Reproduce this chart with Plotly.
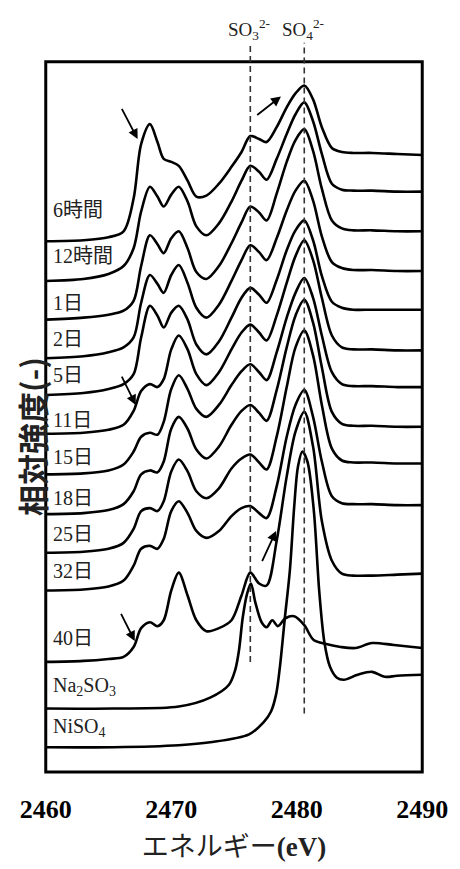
import plotly.graph_objects as go

# ---------------- data ----------------
energy = [2460, 2463, 2465, 2466.2, 2467.0, 2467.6, 2468.3, 2468.9, 2469.4, 2470.0,
          2470.6, 2471.3, 2472.0, 2472.8, 2473.8, 2474.8, 2475.6, 2476.3, 2477.0, 2477.6,
          2478.4, 2479.2, 2479.9, 2480.6, 2481.3, 2482.0, 2482.8, 2483.6, 2484.5, 2486,
          2488, 2490]

sample_labels = ["6時間", "12時間", "1日", "2日", "5日", "11日", "15日", "18日", "25日", "32日", "40日"]
sample_offsets = [535, 495, 456, 417, 380, 341, 300, 260, 221, 183, 111]

int_6h  = [0, 1, 4, 10, 43, 98, 118, 100, 83, 80, 76, 61, 45, 46, 58, 75, 90, 106, 103, 100, 115, 135, 149, 157, 143, 115, 94, 90, 89, 89, 88, 87]
int_12h = [0, 2, 7, 15, 33, 70, 95, 85, 75, 87, 95, 80, 55, 46, 58, 80, 101, 116, 110, 102, 123, 148, 168, 180, 161, 128, 98, 92, 91, 91, 90, 90]
int_1d  = [0, 2, 5, 9, 19, 54, 85, 76, 67, 82, 89, 72, 48, 41, 54, 77, 98, 114, 108, 100, 127, 159, 181, 192, 170, 132, 100, 92, 90, 90, 89, 89]
int_2d  = [0, 2, 6, 11, 21, 56, 84, 75, 66, 84, 94, 76, 51, 41, 54, 78, 99, 114, 107, 99, 121, 149, 169, 179, 159, 123, 97, 91, 89, 89, 88, 88]
int_5d  = [0, 2, 6, 11, 21, 58, 90, 80, 68, 83, 90, 76, 51, 41, 54, 78, 98, 108, 101, 93, 116, 146, 166, 176, 156, 120, 94, 88, 86, 86, 86, 86]
int_11d = [0, 1, 4, 9, 23, 43, 50, 47, 55, 85, 99, 85, 60, 49, 62, 85, 102, 110, 102, 94, 119, 152, 179, 195, 175, 137, 99, 87, 85, 85, 84, 84]
int_15d = [0, 1, 4, 10, 23, 38, 42, 40, 53, 86, 100, 86, 66, 58, 70, 90, 104, 111, 103, 95, 123, 158, 183, 198, 178, 140, 103, 91, 89, 89, 88, 88]
int_18d = [0, 1, 4, 10, 23, 40, 44, 42, 53, 86, 98, 86, 65, 56, 68, 90, 104, 110, 102, 94, 125, 168, 200, 216, 193, 148, 103, 91, 89, 89, 88, 88]
int_25d = [0, 1, 4, 10, 24, 42, 45, 42, 52, 82, 94, 82, 62, 55, 65, 85, 95, 99, 91, 84, 117, 167, 207, 224, 199, 149, 105, 93, 91, 91, 90, 90]
int_32d = [0, 1, 4, 10, 25, 42, 45, 42, 52, 80, 90, 78, 60, 53, 60, 75, 83, 85, 78, 73, 105, 155, 187, 202, 175, 130, 95, 88, 87, 87, 86, 86]
int_40d = [0, 1, 3, 5, 15, 34, 40, 36, 42, 72, 90, 67, 42, 31, 34, 42, 67, 90, 79, 77, 122, 187, 232, 252, 217, 142, 102, 89, 87, 87, 88, 89]

sample_intensities = [int_6h, int_12h, int_1d, int_2d, int_5d, int_11d, int_15d,
                      int_18d, int_25d, int_32d, int_40d]

na2so3_label = "Na<sub>2</sub>SO<sub>3</sub>"
na2so3_offset = 64
na2so3_energy = [2460, 2465.4, 2470.6, 2473.1, 2474.6, 2475.1, 2475.4, 2475.7, 2476.05, 2476.35,
                 2476.7, 2477.2, 2477.6, 2478.05, 2478.5, 2479.1, 2479.8, 2480.6, 2481.35, 2482.35,
                 2483.5, 2484.7, 2486.0, 2487.75, 2490]
na2so3_int = [0, 0, 2, 11, 24, 39, 59, 92, 116, 126, 107, 87, 82, 89, 83, 91, 93, 84, 69, 65,
              62, 61, 66, 64, 61]

niso4_label = "NiSO<sub>4</sub>"
niso4_offset = 25
niso4_energy = [2460, 2465.4, 2470.6, 2473.1, 2476.2, 2477.35, 2477.95, 2478.35, 2478.65, 2479.05,
                2479.45, 2479.8, 2480.1, 2480.45, 2480.85, 2481.35, 2481.8, 2482.2, 2482.65, 2483.2,
                2483.75, 2484.85, 2486.0, 2487.0, 2488.0, 2490]
niso4_int = [0, 0, 2, 5, 13, 25, 36, 53, 80, 130, 178, 243, 283, 298, 288, 240, 156, 106, 81, 70,
             68, 73, 76, 71, 72, 73]

ref_lines = [2476.3, 2480.6]
ref_labels = ["SO<sub>3</sub><sup>2-</sup>", "SO<sub>4</sub><sup>2-</sup>"]
x_ticks = [2460, 2470, 2480, 2490]

# ---------------- layout helpers (positions / styles) ----------------
label_lift = [31, 25, 17, 19, 20, 14, 18, 16, 19, 20, 24]
frame_top = 716
serif_cjk = "Liberation Serif, Noto Sans CJK JP"
line_style = dict(color="black", width=2.6, shape="spline", smoothing=0.9)

fig = go.Figure()

for lab, off, ints in zip(sample_labels, sample_offsets, sample_intensities):
    fig.add_trace(go.Scatter(x=energy, y=[off + v for v in ints], mode="lines",
                             line=line_style, name=lab, hoverinfo="skip"))

fig.add_trace(go.Scatter(x=na2so3_energy, y=[na2so3_offset + v for v in na2so3_int],
                         mode="lines", line=line_style, name="Na2SO3", hoverinfo="skip"))
fig.add_trace(go.Scatter(x=niso4_energy, y=[niso4_offset + v for v in niso4_int],
                         mode="lines", line=line_style, name="NiSO4", hoverinfo="skip"))

# frame
fig.add_shape(type="rect", xref="x", yref="y", x0=2460, x1=2490, y0=0, y1=frame_top,
              line=dict(color="black", width=3))

# dashed reference lines
fig.add_shape(type="line", xref="x", yref="y", x0=ref_lines[0], x1=ref_lines[0], y0=111, y1=735,
              line=dict(color="#333", width=1.6, dash="6px,4px"))
fig.add_shape(type="line", xref="x", yref="y", x0=ref_lines[1], x1=ref_lines[1], y0=59, y1=735,
              line=dict(color="#333", width=1.6, dash="6px,4px"))

annotations = []
for xl, tl in zip(ref_lines, ref_labels):
    annotations.append(dict(x=xl - 0.1, y=748, xref="x", yref="y", text=tl, showarrow=False,
                            xanchor="center", yanchor="middle",
                            font=dict(family=serif_cjk, size=19, color="#222")))

all_labels = sample_labels + [na2so3_label, niso4_label]
all_offsets = sample_offsets + [na2so3_offset, niso4_offset]
all_lifts = label_lift + [22, 20]
for lab, off, lift in zip(all_labels, all_offsets, all_lifts):
    annotations.append(dict(x=2460.45, y=off + lift, xref="x", yref="y", text=lab,
                            showarrow=False, xanchor="left", yanchor="middle",
                            font=dict(family=serif_cjk, size=20, color="#222")))

arrows = [((2466.0, 670), (2467.32, 638)),
          ((2476.73, 661), (2478.74, 681)),
          ((2466.0, 400), (2467.17, 370)),
          ((2465.94, 161), (2467.09, 132)),
          ((2477.19, 211), (2478.35, 243))]
for (tx, ty), (hx, hy) in arrows:
    annotations.append(dict(x=hx, y=hy, ax=tx, ay=ty, xref="x", yref="y", axref="x", ayref="y",
                            text="", showarrow=True, arrowhead=2, arrowsize=1.1,
                            arrowwidth=1.8, arrowcolor="black"))

# y-axis title
annotations.append(dict(x=-0.0277, y=0.449, xref="paper", yref="paper",
                        text="<b>相対強度(-)</b>", textangle=-90, showarrow=False,
                        xanchor="center", yanchor="middle",
                        font=dict(family="Noto Sans CJK JP", size=31, color="#222")))

# page body keeps an 8px margin, so the figure is sized 8px smaller
fig.update_layout(
    width=452, height=861,
    margin=dict(l=28, r=27, t=12, b=87),
    paper_bgcolor="white", plot_bgcolor="white",
    showlegend=False,
    annotations=annotations,
    xaxis=dict(range=[2459.7, 2490.3], tickvals=x_ticks, ticktext=[str(t) for t in x_ticks],
               showgrid=False, zeroline=False, showline=False, ticks="",
               ticklabelstandoff=15,
               tickfont=dict(family="Liberation Serif", size=26, color="black", weight="bold"),
               title=dict(text="エネルギー<b>(eV)</b>", standoff=14,
                          font=dict(family=serif_cjk, size=27, color="#222"))),
    yaxis=dict(range=[-4, 758], showgrid=False, zeroline=False, showline=False,
               showticklabels=False, ticks=""),
)

fig.write_html("out.html")
